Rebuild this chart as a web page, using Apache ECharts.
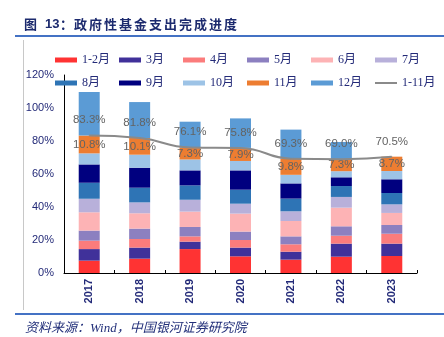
<!DOCTYPE html>
<html>
<head>
<meta charset="utf-8">
<script src="https://cdn.jsdelivr.net/npm/echarts@6/dist/echarts.min.js"></script>
<style>
  html, body { margin: 0; padding: 0; background: #fff; }
  #chart { width: 444px; height: 337px; }
</style>
</head>
<body>
<div id="chart"></div>
<script>
// Years on the category axis
const years = ['2017', '2018', '2019', '2020', '2021', '2022', '2023'];

// Monthly share of the full-year budget spent (%)
const janFeb = [7.5, 8.7, 14.5, 10.1, 8.1, 9.9, 10.3];
const mar    = [7.0, 6.7, 4.5, 5.3, 4.8, 7.9, 7.5];
const apr    = [5.1, 5.2, 3.2, 4.6, 4.5, 4.8, 6.0];
const may    = [6.1, 6.3, 5.7, 5.1, 4.8, 5.7, 5.3];
const jun    = [11.1, 9.3, 9.3, 10.9, 9.3, 11.3, 7.3];
const jul    = [8.2, 6.6, 7.2, 6.0, 5.9, 6.5, 5.2];
const aug    = [9.7, 8.9, 8.7, 8.5, 7.7, 6.6, 6.9];
const sep    = [11.1, 12.1, 9.1, 11.7, 9.2, 5.3, 8.3];
const oct    = [6.7, 7.9, 6.6, 5.7, 5.2, 3.7, 5.0];
const nov    = [10.8, 10.1, 7.3, 7.9, 9.8, 7.3, 8.7];
const dec    = [26.4, 21.8, 15.6, 17.9, 17.6, 10.4, null];

// Cumulative Jan–Nov completion (%)
const janToNov = [83.3, 81.8, 76.1, 75.8, 69.3, 69.0, 70.5];

// Y axis ticks
const yMin = 0, yMax = 120, yStep = 20;

const monthSeries = [
  { name: '1-2月', data: janFeb, color: '#ff3333' },
  { name: '3月',   data: mar,    color: '#40319a' },
  { name: '4月',   data: apr,    color: '#fb7c7c' },
  { name: '5月',   data: may,    color: '#8c80c0' },
  { name: '6月',   data: jun,    color: '#fdb3b5' },
  { name: '7月',   data: jul,    color: '#b8b0da' },
  { name: '8月',   data: aug,    color: '#2e74b5' },
  { name: '9月',   data: sep,    color: '#00007f' },
  { name: '10月',  data: oct,    color: '#9dc3e6' },
  { name: '11月',  data: nov,    color: '#ed7d31' },
  { name: '12月',  data: dec,    color: '#5b9bd5' }
];
const lineColor = '#8a8a8a';
const labelGrey = '#636363';

const navy = '#232a78';
const serif = '"Liberation Serif", "DejaVu Serif", "Noto Sans CJK SC", serif';
const sans = '"Liberation Sans", Arial, "Noto Sans CJK SC", sans-serif';
const pct = p => p.value.toFixed(1) + '%';

const series = monthSeries.map(m => {
  const s = {
    name: m.name,
    type: 'bar',
    stack: 'total',
    barWidth: 21,
    data: m.data,
    itemStyle: { color: m.color },
    emphasis: { disabled: true }
  };
  if (m.name === '11月') {
    s.label = {
      show: true,
      position: 'inside',
      color: labelGrey,
      fontFamily: sans,
      fontSize: 11.5,
      formatter: pct
    };
  }
  return s;
});

// Cumulative line with its value labels
series.push({
  name: '1-11月',
  type: 'line',
  data: janToNov,
  smooth: true,
  symbol: 'circle',
  symbolSize: 1,
  showSymbol: true,
  z: 5,
  lineStyle: { color: lineColor, width: 2 },
  itemStyle: { color: lineColor },
  emphasis: { disabled: true },
  label: {
    show: true,
    position: 'top',
    distance: 9,
    color: labelGrey,
    fontFamily: sans,
    fontSize: 11.5,
    formatter: pct
  }
});

// One legend block per entry, laid out on a fixed 64px column grid in two rows
const legendNames = ['1-2月', '3月', '4月', '5月', '6月', '7月',
                     '8月', '9月', '10月', '11月', '12月', '1-11月'];
const legends = legendNames.map((name, i) => {
  const isLine = name === '1-11月';
  return {
    left: 50 + 64 * (i % 6),
    top: i < 6 ? 49 : 72,
    itemWidth: 22,
    itemHeight: isLine ? 2 : 5,
    itemTextGap: 4,
    selectedMode: false,
    textStyle: { color: navy, fontFamily: serif, fontSize: 12 },
    data: [isLine
      ? { name, icon: 'rect', itemStyle: { color: lineColor } }
      : { name, icon: 'rect' }]
  };
});

// Title laid out one glyph per fixed-width cell
const titleFill = '#1c2a6e';
const cjkBold = 'bold 13px "Noto Sans CJK SC", sans-serif';
const titleRich = {
  c: { width: 15, font: cjkBold, fill: titleFill },
  s: { width: 6, font: cjkBold, fill: titleFill },
  n: { width: 15, font: 'bold 13px "Liberation Sans", sans-serif', fill: titleFill },
  p: { width: 14, font: cjkBold, fill: titleFill }
};
const titleText = '{c|图}{s| }{n|13}{p|：}' +
  '政府性基金支出完成进度'.split('').map(ch => '{c|' + ch + '}').join('');

const chart = echarts.init(document.getElementById('chart'), null, { renderer: 'canvas' });
chart.setOption({
  animation: false,
  backgroundColor: '#fff',
  graphic: [
    {
      type: 'text', left: 24, top: 18,
      style: { text: titleText, rich: titleRich, fill: titleFill, font: cjkBold }
    },
    { type: 'rect', shape: { x: 15, y: 35, width: 429, height: 2 }, style: { fill: '#4472c4' } },
    { type: 'rect', shape: { x: 23, y: 40, width: 1, height: 270 }, style: { fill: '#c8c8c8' } },
    { type: 'rect', shape: { x: 15, y: 313, width: 429, height: 2 }, style: { fill: '#4472c4' } },
    {
      type: 'text', left: 25, top: 322,
      style: {
        text: '资料来源：Wind，中国银河证券研究院',
        fill: '#23307a',
        font: 'italic 13px "Liberation Serif", "Noto Sans CJK SC", serif'
      }
    }
  ],
  legend: legends,
  grid: { left: 64, right: 27, top: 75, bottom: 64, containLabel: false },
  xAxis: {
    type: 'category',
    data: years,
    boundaryGap: true,
    axisLine: { show: true, lineStyle: { color: '#000', width: 1 } },
    axisTick: { show: true, inside: true, length: 3, lineStyle: { color: '#000' } },
    axisLabel: {
      rotate: 90,
      color: navy,
      fontFamily: sans,
      fontSize: 11,
      fontWeight: 'bold',
      margin: 6
    }
  },
  yAxis: {
    type: 'value',
    min: yMin,
    max: yMax,
    interval: yStep,
    axisLine: { show: true, lineStyle: { color: '#000', width: 1 } },
    axisTick: { show: false },
    splitLine: { show: false },
    axisLabel: {
      color: navy,
      fontFamily: sans,
      fontSize: 11,
      margin: 10,
      formatter: '{value}%'
    }
  },
  series: series
});
</script>
</body>
</html>
